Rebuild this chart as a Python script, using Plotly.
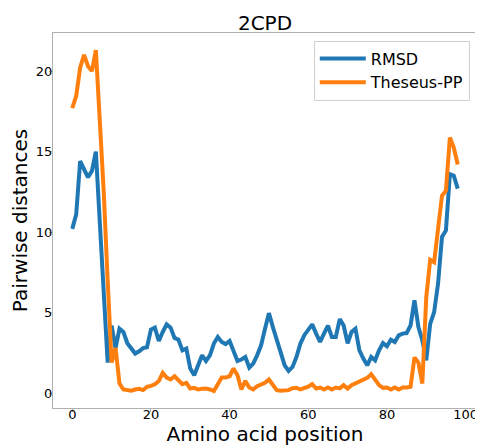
import plotly.graph_objects as go

# Pairwise distances along the 2CPD chain
positions = list(range(99))

rmsd = [
    10.2, 11.1, 14.4, 13.9, 13.4, 13.8, 15.0, 10.6, 6.2, 1.9,
    4.2, 2.8, 4.0, 3.8, 3.1, 2.8, 2.46, 2.6, 2.8, 2.85,
    3.95, 4.07, 3.24, 3.8, 4.27, 4.07, 3.43, 3.32, 2.66, 2.77,
    1.53, 1.11, 1.8, 2.35, 2.0, 2.35, 3.08, 3.49, 3.18, 3.05,
    3.24, 2.66, 2.0, 2.09, 2.25, 1.59, 1.84, 2.35, 2.97, 4.0,
    4.97, 4.1, 3.28, 2.35, 1.73, 1.38, 1.63, 2.25, 3.08, 3.6,
    3.95, 4.27, 3.7, 3.18, 3.7, 4.2, 3.49, 3.49, 4.6, 4.2,
    3.1, 3.8, 4.0, 2.66, 2.15, 1.73, 2.25, 2.04, 2.66, 3.11,
    2.91, 3.32, 3.18, 3.59, 3.7, 3.73, 4.2, 5.76, 4.1, 3.28,
    2.04, 4.3, 5.03, 6.8, 9.7, 10.1, 13.6, 13.5, 12.7,
]

theseus_pp = [
    17.7, 18.45, 20.2, 21.0, 20.3, 20.0, 21.3, 17.0, 12.5, 7.0,
    1.9, 2.8, 0.6, 0.23, 0.19, 0.15, 0.23, 0.27, 0.19, 0.39,
    0.45, 0.55, 0.75, 1.26, 0.97, 0.85, 1.05, 0.8, 0.56, 0.64,
    0.29, 0.33, 0.23, 0.27, 0.29, 0.23, 0.14, 0.56, 0.97, 0.97,
    1.05, 1.53, 1.11, 0.23, 0.76, 0.35, 0.23, 0.43, 0.55, 0.64,
    0.85, 0.5, 0.19, 0.15, 0.19, 0.19, 0.31, 0.33, 0.23, 0.29,
    0.4, 0.56, 0.29, 0.35, 0.23, 0.35, 0.23, 0.35, 0.3, 0.5,
    0.29, 0.5, 0.6, 0.7, 0.8, 0.95, 1.18, 0.8, 0.5, 0.33,
    0.35, 0.23, 0.35, 0.23, 0.35, 0.35, 0.4, 2.21, 1.9, 0.6,
    5.96, 8.28, 8.13, 10.2, 12.26, 12.57, 15.87, 15.25, 14.2,
]

x_ticks = [0, 20, 40, 60, 80, 100]
y_ticks = [0, 5, 10, 15, 20]

font_family = "DejaVu Sans"
axis_color = "#b0b0b0"

fig = go.Figure()

fig.add_trace(
    go.Scatter(
        x=positions, y=rmsd, mode="lines", name="RMSD",
        line=dict(color="#1f77b4", width=4),
    )
)
fig.add_trace(
    go.Scatter(
        x=positions, y=theseus_pp, mode="lines", name="Theseus-PP",
        line=dict(color="#ff7f0e", width=4),
    )
)

# The page body adds an 8px offset, so the figure is a bit smaller than the window
fig.update_layout(
    width=475,
    height=438,
    margin=dict(l=45, r=6, t=25, b=38),
    plot_bgcolor="white",
    paper_bgcolor="white",
    font=dict(family=font_family, color="black"),
    title=dict(
        text="2CPD", x=0.5, xanchor="center", xref="paper",
        y=0.966, yanchor="middle", font=dict(size=20),
    ),
    legend=dict(
        x=0.983, y=0.98, xanchor="right", yanchor="top",
        bgcolor="rgba(255,255,255,0.8)",
        bordercolor="#d0d0d0", borderwidth=1,
        font=dict(size=16), itemwidth=46,
    ),
)

# Box frame with outside ticks; fixed margins so nothing gets pushed around
fig.update_xaxes(
    range=[-4.9, 102.9], tickvals=x_ticks, automargin=False,
    showgrid=False, zeroline=False,
    showline=True, mirror=True, linecolor=axis_color, linewidth=1.3,
    ticks="outside", ticklen=3, tickcolor=axis_color,
    tickfont=dict(size=13), ticklabelposition="outside", ticklabelstandoff=-9,
    title=dict(text="Amino acid position", font=dict(size=20)),
)
fig.update_yaxes(
    range=[-0.92, 22.36], tickvals=y_ticks, automargin=False,
    showgrid=False, zeroline=False,
    showline=True, mirror=True, linecolor=axis_color, linewidth=1.3,
    ticks="outside", ticklen=3, tickcolor=axis_color,
    tickfont=dict(size=13), ticklabelstandoff=-6,
    title=dict(text="Pairwise distances", font=dict(size=20)),
)

fig.write_html("out.html")
